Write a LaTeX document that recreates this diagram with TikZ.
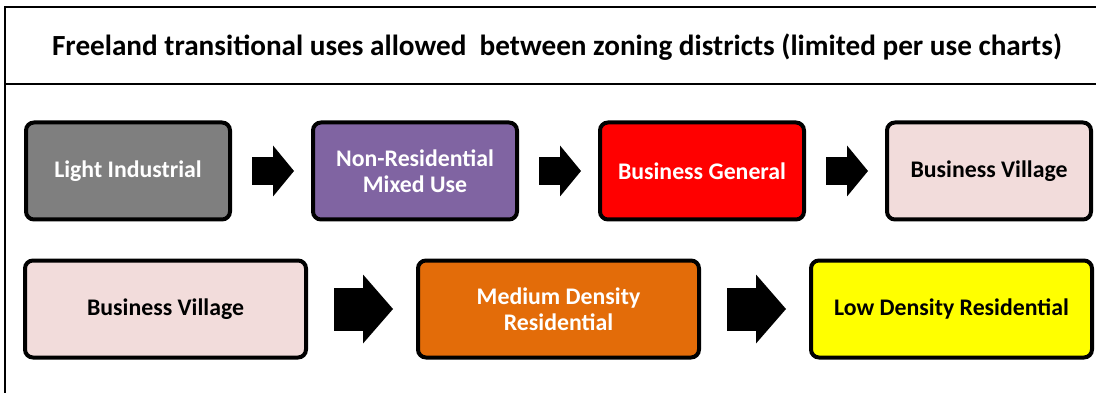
\documentclass[tikz,border=0pt]{standalone}
\usepackage{fontspec}
\setmainfont{Carlito}
\usetikzlibrary{positioning,arrows.meta}

\definecolor{indgray}{HTML}{7F7F7F}
\definecolor{mixpurple}{HTML}{8064A2}
\definecolor{bgenred}{HTML}{FF0000}
\definecolor{villpink}{HTML}{F2DCDB}
\definecolor{medorange}{HTML}{E36C09}
\definecolor{lowyellow}{HTML}{FFFF00}

\tikzset{
  zone/.style={draw=black, line width=4pt, rounded corners=8pt, minimum width=204pt,
    minimum height=97pt, align=center, inner sep=2pt, outer sep=0pt,
    font=\bfseries\fontsize{23.8}{26}\selectfont},
  widezone/.style={zone, minimum width=281pt},
  smallarrow/.style={line width=28pt, -{Triangle[width=51pt,length=21pt,line width=0pt]},
    shorten <=22pt, shorten >=19pt},
  bigarrow/.style={line width=43pt, -{Triangle[width=69pt,length=30pt,line width=0pt]},
    shorten <=28pt, shorten >=25pt},
}

\begin{document}
\begin{tikzpicture}[x=1pt,y=-1pt]
  \useasboundingbox (0,0) rectangle (1096,393);
  % frame and heading
  \draw[line width=2pt] (5,393) -- (5,7) -- (1096,7);
  \draw[line width=2pt] (5,84) -- (1096,84);
  \node[font=\bfseries\fontsize{29.2}{34}\selectfont, inner sep=0pt] (title) at (557,47)
    {Freeland transitional uses allowed\ \ between zoning districts (limited per use charts)};

  % first row
  \node[zone, fill=indgray, text=white] (lind) at (128,171) {Light Industrial};
  \node[zone, fill=mixpurple, text=white, right=83pt of lind] (nrmu) {Non-Residential\\Mixed Use};
  \node[zone, fill=bgenred, text=white, right=83pt of nrmu] (bgen) {Business General};
  \node[zone, fill=villpink, right=83pt of bgen] (bvil1) {Business Village};

  % second row
  \node[widezone, fill=villpink] (bvil2) at (165.5,309) {Business Village};
  \node[widezone, fill=medorange, text=white, right=112pt of bvil2] (mdr) {Medium Density\\Residential};
  \node[widezone, fill=lowyellow, right=112pt of mdr] (ldr) {Low Density Residential};

  % block arrows
  \draw[smallarrow] (lind) -- (nrmu);
  \draw[smallarrow] (nrmu) -- (bgen);
  \draw[smallarrow] (bgen) -- (bvil1);
  \draw[bigarrow] (bvil2) -- (mdr);
  \draw[bigarrow] (mdr) -- (ldr);
\end{tikzpicture}
\end{document}
